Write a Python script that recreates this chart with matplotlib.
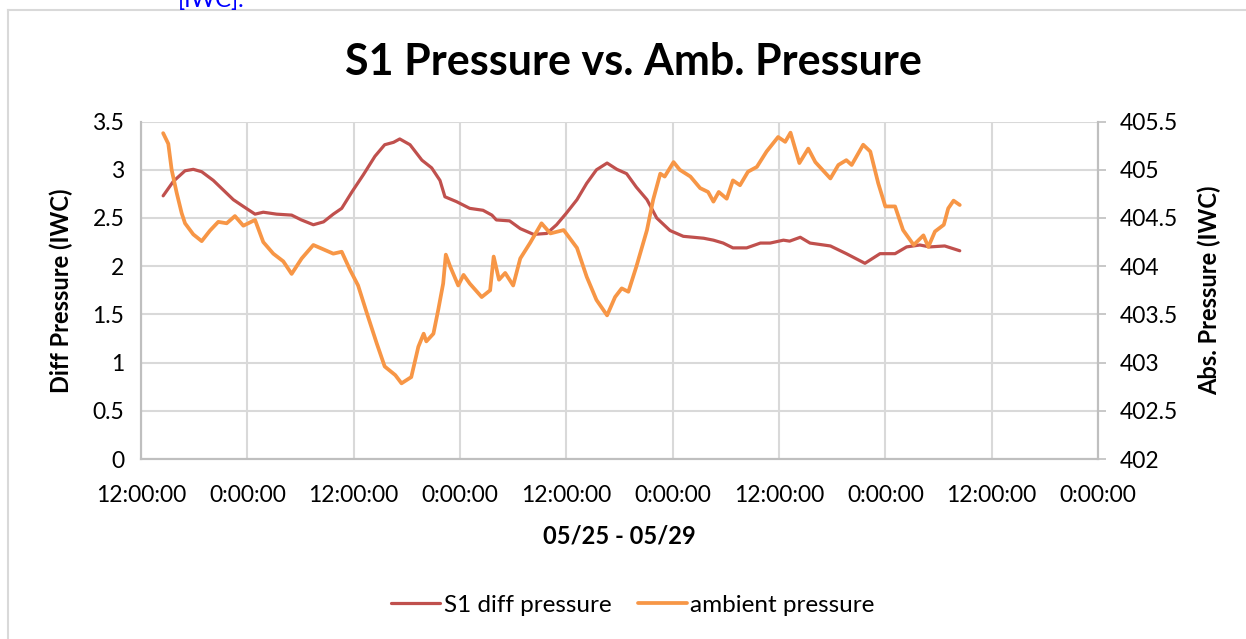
import matplotlib
matplotlib.use("Agg")
import matplotlib.pyplot as plt
from matplotlib.lines import Line2D

plt.rcParams['font.family'] = ['Lato', 'DejaVu Sans']

# hours after 12:00:00 on the first day
diff_hours = [2.5, 3.65, 4.97, 5.9, 6.85, 8.16, 9.29, 10.42, 11.55, 12.87, 13.8, 15.3, 17.0,
              18.1, 19.45, 20.6, 21.7, 22.65, 23.8, 25.1, 26.4, 27.5, 28.5, 29.2, 30.36, 31.7,
              32.8, 33.74, 34.3, 35.6, 37.1, 38.6, 39.6, 40.1, 41.6, 42.8, 44.3, 45.8, 46.9,
              48.0, 49.2, 50.3, 51.4, 52.6, 53.7, 54.8, 55.9, 57.1, 58.2, 59.7, 61.2, 63.5,
              64.6, 65.7, 66.8, 68.35, 69.9, 71.0, 72.5, 73.2, 74.4, 75.5, 77.8, 79.6, 81.7,
              83.4, 85.1, 86.4, 87.9, 89.0, 90.7, 92.4]
diff_vals = [2.73, 2.88, 2.99, 3.005, 2.98, 2.89, 2.79, 2.69, 2.62, 2.54, 2.56, 2.54, 2.53,
             2.48, 2.43, 2.46, 2.54, 2.60, 2.77, 2.95, 3.14, 3.26, 3.285, 3.32, 3.26, 3.10,
             3.02, 2.89, 2.72, 2.67, 2.60, 2.58, 2.53, 2.48, 2.47, 2.39, 2.33, 2.34, 2.43,
             2.55, 2.69, 2.86, 3.00, 3.07, 3.005, 2.96, 2.82, 2.69, 2.50, 2.37, 2.31, 2.29,
             2.27, 2.24, 2.19, 2.19, 2.24, 2.24, 2.27, 2.26, 2.30, 2.24, 2.21, 2.13, 2.03,
             2.13, 2.13, 2.20, 2.22, 2.20, 2.21, 2.16]

amb_hours = [2.5, 3.08, 3.46, 4.03, 4.59, 4.97, 5.9, 6.85, 7.79, 8.72, 9.67, 10.6, 11.55,
             12.87, 13.8, 14.93, 16.06, 17.0, 18.13, 19.45, 20.58, 21.7, 22.65, 23.6, 24.5,
             25.5, 26.6, 27.5, 28.7, 29.4, 30.5, 31.3, 31.9, 32.2, 33.0, 33.55, 34.1, 34.4,
             34.9, 35.8, 36.4, 37.1, 38.45, 39.4, 39.8, 40.4, 41.1, 42.0, 42.8, 43.9, 45.2,
             46.2, 47.7, 49.2, 50.3, 51.4, 52.6, 53.5, 54.25, 55.0, 55.9, 57.1, 57.8, 58.6,
             59.1, 60.1, 60.8, 62.0, 63.1, 64.0, 64.6, 65.2, 66.1, 66.8, 67.6, 68.5, 69.5,
             70.6, 71.9, 72.7, 73.3, 74.3, 75.3, 76.1, 77.8, 78.7, 79.6, 80.2, 81.5, 82.3,
             83.2, 84.0, 85.1, 86.0, 87.2, 88.3, 88.85, 89.6, 90.6, 91.1, 91.7, 92.4]
amb_vals = [405.38, 405.27, 405.00, 404.76, 404.55, 404.445, 404.33, 404.26, 404.37, 404.46,
            404.445, 404.52, 404.42, 404.48, 404.25, 404.13, 404.05, 403.92, 404.08, 404.22,
            404.175, 404.13, 404.15, 403.96, 403.80, 403.51, 403.20, 402.96, 402.87, 402.785,
            402.85, 403.165, 403.30, 403.22, 403.30, 403.55, 403.82, 404.12, 403.995, 403.80,
            403.91, 403.82, 403.68, 403.75, 404.10, 403.86, 403.93, 403.80, 404.08, 404.24,
            404.445, 404.34, 404.375, 404.19, 403.89, 403.65, 403.49, 403.68, 403.77, 403.735,
            403.995, 404.375, 404.69, 404.96, 404.93, 405.08, 405.00, 404.93, 404.81, 404.77,
            404.67, 404.77, 404.70, 404.89, 404.84, 404.98, 405.03, 405.19, 405.34, 405.29,
            405.385, 405.07, 405.22, 405.08, 404.91, 405.05, 405.10, 405.05, 405.26, 405.19,
            404.86, 404.62, 404.62, 404.375, 404.22, 404.32, 404.20, 404.36, 404.43, 404.60,
            404.68, 404.635]

tick_hours = list(range(0, 109, 12))
tick_labels = ["12:00:00" if (12 + h) % 24 == 12 else "0:00:00" for h in tick_hours]

RED = "#C0504D"
ORANGE = "#F79646"
GRID = "#d9d9d9"
SPINE = "#bfbfbf"

W, H = 1246, 639
fig = plt.figure(figsize=(W / 100, H / 100), dpi=100)

# outer chart border (left + top edges visible) and cut-off text above
fig.add_artist(Line2D([8 / W, 8 / W], [0, 1 - 10 / H], color="#d9d9d9", lw=1.5))
fig.add_artist(Line2D([8 / W, 1], [1 - 10 / H, 1 - 10 / H], color="#d9d9d9", lw=1.5))
fig.text(178 / W, 1 - 7 / H, "[IWC].", color="#0000ff", fontsize=17, va="baseline")

ax = fig.add_axes([141 / W, (H - 459) / H, 957 / W, 337.4 / H])
ax2 = ax.twinx()

ax.plot(diff_hours, diff_vals, color=RED, lw=2.3, label="S1 diff pressure", solid_capstyle="round")
ax2.plot(amb_hours, amb_vals, color=ORANGE, lw=2.7, label="ambient pressure", solid_capstyle="round")

ax.set_xlim(0, 108)
ax.set_ylim(0, 3.5)
ax2.set_ylim(402, 405.5)
ax.set_yticks([i * 0.5 for i in range(8)])
ax.set_yticklabels(["0", "0.5", "1", "1.5", "2", "2.5", "3", "3.5"])
ax2.set_yticks([402 + i * 0.5 for i in range(8)])
ax2.set_yticklabels(["402", "402.5", "403", "403.5", "404", "404.5", "405", "405.5"])
ax.set_xticks(tick_hours)
ax.set_xticklabels(tick_labels)

ax.grid(True, color=GRID, lw=1.5)
ax.set_axisbelow(True)
for a in (ax, ax2):
    a.spines["top"].set_visible(False)
    for s in ("left", "right", "bottom"):
        a.spines[s].set_color(SPINE)
        a.spines[s].set_linewidth(1.5)

ax.tick_params(axis="x", length=0, labelsize=16.5, pad=19)
ax.tick_params(axis="y", length=0, labelsize=16.5, pad=12)
ax2.tick_params(axis="y", length=6, width=1.2, color=SPINE, labelsize=16.5, pad=10)

ax.set_ylabel("Diff Pressure (IWC)", fontsize=17, fontweight="bold", labelpad=14)
ax2.set_ylabel("Abs. Pressure (IWC)", fontsize=17, fontweight="bold", labelpad=14)
ax.set_xlabel("05/25 - 05/29", fontsize=17, fontweight="bold", labelpad=13)

fig.text(0.5 + 10 / W, 1 - 62 / H, "S1 Pressure vs. Amb. Pressure", ha="center", va="center",
         fontsize=31, fontweight="bold")

h1, l1 = ax.get_legend_handles_labels()
h2, l2 = ax2.get_legend_handles_labels()
fig.legend(h1 + h2, l1 + l2, loc="center", bbox_to_anchor=(0.5 + 10 / W, 1 - 605 / H), ncol=2,
           frameon=False, fontsize=17.5, handlelength=2.0, handletextpad=0.15, columnspacing=1.1)

fig.savefig("out.png", dpi=100)
